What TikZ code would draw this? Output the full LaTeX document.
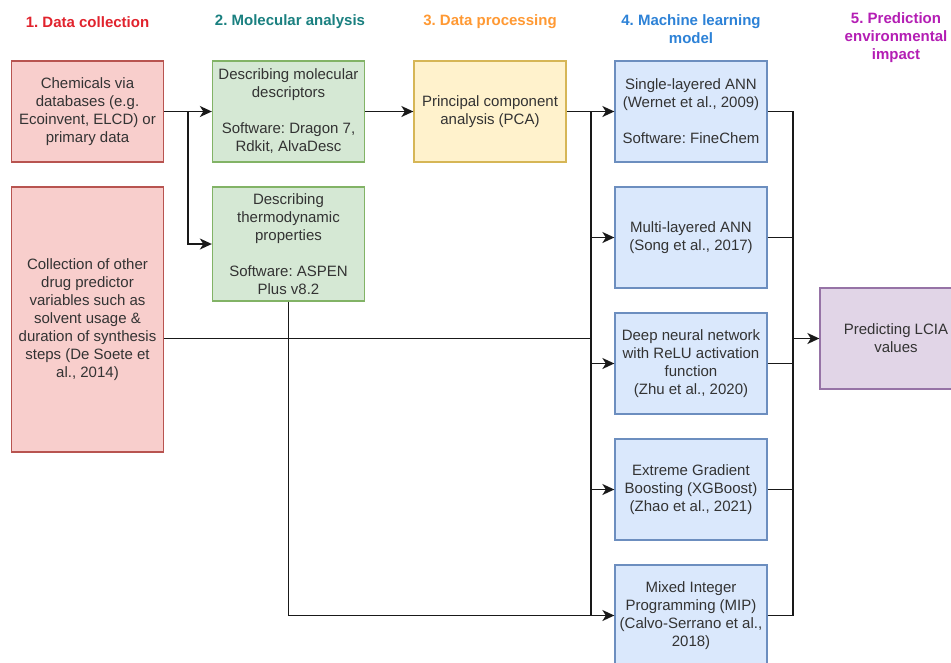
\documentclass[tikz,border=0pt]{standalone}
\usepackage{fontspec}
\setmainfont{Liberation Sans}
\frenchspacing
\usetikzlibrary{arrows.meta}
\definecolor{txt}{HTML}{333333}
\definecolor{redF}{HTML}{F8CECC}\definecolor{redD}{HTML}{B85450}
\definecolor{grnF}{HTML}{D5E8D4}\definecolor{grnD}{HTML}{82B366}
\definecolor{ylwF}{HTML}{FFF2CC}\definecolor{ylwD}{HTML}{D6B656}
\definecolor{bluF}{HTML}{DAE8FC}\definecolor{bluD}{HTML}{6C8EBF}
\definecolor{purF}{HTML}{E1D5E7}\definecolor{purD}{HTML}{9673A6}
\definecolor{t1}{RGB}{225,35,45}
\definecolor{t2}{RGB}{26,128,128}
\definecolor{t3}{RGB}{255,153,51}
\definecolor{t4}{RGB}{45,130,215}
\definecolor{t5}{RGB}{180,30,180}
\begin{document}
\begin{tikzpicture}[x=1pt,y=-1pt,
  every node/.style={font=\fontsize{15}{18}\selectfont, text=txt, align=center, inner sep=0pt},
  box/.style={draw, line width=1.3pt, minimum width=152pt, minimum height=101pt},
  redbox/.style={box, fill=redF, draw=redD},
  grnbox/.style={box, fill=grnF, draw=grnD},
  ylwbox/.style={box, fill=ylwF, draw=ylwD},
  blubox/.style={box, fill=bluF, draw=bluD},
  purbox/.style={box, fill=purF, draw=purD},
  ttl/.style={font=\fontsize{15}{18}\selectfont\bfseries},
  conn/.style={line width=1.6pt, draw=black!90},
  arr/.style={conn, -{Stealth[length=12pt,width=11pt,inset=3.5pt]}}
]
\useasboundingbox (0,0) rectangle (951,662);
\fill[white] (0,0) rectangle (951,662);

% titles
\node[ttl, text=t1] (h1) at (87.5,22) {1. Data collection};
\node[ttl, text=t2] (h2) at (290,22) {2. Molecular analysis};
\node[ttl, text=t3] (h3) at (490,22) {3. Data processing};
\node[ttl, text=t4] (h4) at (691,29) {4. Machine learning\\model};
\node[ttl, text=t5] (h5) at (896,38) {5. Prediction\\environmental\\impact};

% boxes
\node[redbox] (A) at (87.5,111.5) {Chemicals via\\databases (e.g.\\Ecoinvent, ELCD) or\\primary data};
\node[redbox, minimum height=265pt] (B) at (87.5,319.5) {Collection of other\\drug predictor\\variables such as\\solvent usage \&\\duration of synthesis\\steps (De Soete et\\al., 2014)};
\node[grnbox] (C) at (288.5,111.5) {Describing molecular\\descriptors\\[18pt]Software: Dragon 7,\\Rdkit, AlvaDesc};
\node[grnbox, minimum height=114pt] (D) at (288.5,244) {Describing\\thermodynamic\\properties\\[18pt]Software: ASPEN\\Plus v8.2};
\node[ylwbox] (E) at (490,111.5) {Principal component\\analysis (PCA)};
\node[blubox] (F1) at (691,111.5) {Single-layered ANN\\(Wernet et al., 2009)\\[18pt]Software: FineChem};
\node[blubox] (F2) at (691,237.5) {Multi-layered ANN\\(Song et al., 2017)};
\node[blubox] (F3) at (691,363.5) {Deep neural network\\with ReLU activation\\function\\(Zhu et al., 2020)};
\node[blubox] (F4) at (691,489.5) {Extreme Gradient\\Boosting (XGBoost)\\(Zhao et al., 2021)};
\node[blubox] (F5) at (691,615.5) {Mixed Integer\\Programming (MIP)\\(Calvo-Serrano et al.,\\2018)};
\node[purbox] (G) at (896,338.5) {Predicting LCIA\\values};

% junctions
\coordinate (j1) at (188,111.5);
\coordinate (j2) at (591,111.5);
\coordinate (bout) at (163.6,338.5);
\coordinate (bin) at (591,338.5);
\coordinate (dend) at (591,615.5);
\coordinate (bus) at (793,338.5);

% connectors
\draw[arr] (A.east) -- (C.west);
\draw[arr] (j1) |- (D.west);
\draw[arr] (C.east) -- (E.west);
\draw[arr] (E.east) -- (F1.west);
\draw[arr] (j2) |- (F2.west);
\draw[arr] (j2) |- (F3.west);
\draw[arr] (j2) |- (F4.west);
\draw[arr] (j2) |- (F5.west);
\draw[conn] (bout) -- (bin);
\draw[conn] (D.south) |- (dend);
\foreach \f in {F1,F2,F3,F4,F5}{\draw[conn] (\f.east) -| (bus);}
\draw[arr] (bus) -- (G.west);
\end{tikzpicture}
\end{document}
